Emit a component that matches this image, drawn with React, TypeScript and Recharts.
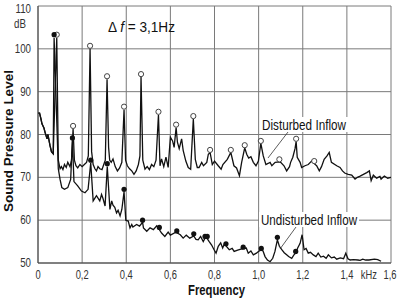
import { ComposedChart, Line, Scatter, XAxis, YAxis, CartesianGrid } from "recharts"

const FONT = "'Liberation Sans', Arial, sans-serif"

const xTicks = [0, 0.2, 0.4, 0.6, 0.8, 1.0, 1.2, 1.4, 1.6]
const yTicks = [50, 60, 70, 80, 90, 100, 110]

// shared low-frequency start of both traces (kHz, dB)
const startTrace: [number, number][] = [
  [0, 85], [0.007, 85], [0.014, 83.5], [0.018, 82.5], [0.027, 81.5], [0.032, 80.5],
  [0.041, 79], [0.045, 80], [0.054, 77.5], [0.061, 76], [0.069, 75.5],
]

const disturbedTrace: [number, number][] = [
  [0.085, 102.6], [0.092, 74], [0.1, 72], [0.106, 72.5], [0.113, 71.8], [0.12, 73],
  [0.128, 72.3], [0.135, 73.5], [0.145, 72.5], [0.152, 74], [0.159, 81.3], [0.165, 74],
  [0.172, 72.7], [0.18, 72.2], [0.19, 73], [0.2, 72.5], [0.21, 73], [0.22, 73.5],
  [0.228, 75], [0.236, 100], [0.243, 76], [0.25, 73], [0.258, 72], [0.265, 71.5],
  [0.272, 72.5], [0.28, 72], [0.29, 71.8], [0.298, 73], [0.305, 74], [0.313, 92.9],
  [0.32, 77], [0.325, 74], [0.332, 73.5], [0.34, 74.3], [0.35, 72.5], [0.36, 71.5],
  [0.37, 72.2], [0.38, 73.5], [0.39, 85.8], [0.397, 74], [0.405, 72.7], [0.415, 72],
  [0.425, 71.5], [0.435, 70.7], [0.445, 71.5], [0.455, 73], [0.462, 75], [0.467, 93.4],
  [0.475, 74], [0.485, 71.9], [0.495, 72.5], [0.505, 71.8], [0.515, 73], [0.525, 72.5],
  [0.535, 74], [0.546, 84.6], [0.553, 72.7], [0.56, 74.3], [0.57, 72.5], [0.58, 74.7],
  [0.59, 72.3], [0.6, 79.4], [0.61, 78.5], [0.617, 77], [0.626, 81.6], [0.632, 78.2],
  [0.64, 76.7], [0.651, 79], [0.658, 76.3], [0.67, 73.8], [0.681, 72.3], [0.692, 71.9],
  [0.704, 83.6], [0.713, 74.2], [0.722, 72.3], [0.73, 72.3], [0.742, 73.5], [0.75, 72.7],
  [0.765, 73.5], [0.772, 75.4], [0.78, 75.8], [0.79, 73], [0.8, 73.8], [0.817, 72.7],
  [0.83, 71.9], [0.838, 73], [0.858, 74.2], [0.874, 75.8], [0.888, 72.7], [0.9, 72.2],
  [0.913, 70.4], [0.923, 73.5], [0.937, 76.9], [0.946, 75.4], [0.955, 74.5], [0.965, 74.8],
  [0.976, 73.5], [0.988, 72.7], [0.999, 73.8], [1.01, 77.9], [1.021, 75], [1.033, 73],
  [1.045, 73.3], [1.052, 73.5], [1.06, 72.7], [1.075, 73.5], [1.094, 73.6], [1.1, 73.5],
  [1.115, 72.7], [1.127, 71.5], [1.14, 72.5], [1.145, 73.5], [1.155, 74.7], [1.165, 76.7],
  [1.17, 78.4], [1.175, 74.7], [1.188, 73.5], [1.195, 72.3], [1.21, 72.7], [1.225, 73],
  [1.24, 73.8], [1.252, 73.2], [1.263, 72.7], [1.275, 71.5], [1.285, 72.5], [1.297, 74.2],
  [1.31, 75], [1.32, 75.8], [1.33, 73.5], [1.354, 72.7], [1.369, 72.3], [1.38, 71.5],
  [1.39, 71], [1.406, 70.7], [1.422, 70.5], [1.437, 69.6], [1.448, 70], [1.46, 70.3],
  [1.475, 70.7], [1.49, 71.1], [1.502, 71.5], [1.51, 69.2], [1.52, 70.5], [1.535, 69.8],
  [1.55, 70.2], [1.555, 69.6], [1.57, 70.3], [1.585, 69.8], [1.6, 70],
]

const undisturbedTrace: [number, number][] = [
  [0.073, 102.6], [0.092, 72], [0.1, 69.5], [0.108, 67.6], [0.12, 67.2], [0.135, 67.6],
  [0.148, 69.5], [0.156, 78.6], [0.163, 69], [0.18, 68], [0.197, 66.8], [0.213, 66.4],
  [0.227, 67.2], [0.239, 73.4], [0.25, 64.5], [0.265, 65.7], [0.28, 64.5], [0.288, 66],
  [0.295, 65], [0.304, 63.3], [0.314, 72.5], [0.326, 62.5], [0.334, 64.5], [0.34, 63.5],
  [0.348, 63], [0.356, 61.7], [0.363, 62.3], [0.372, 61], [0.38, 62.5], [0.39, 66.6],
  [0.398, 60], [0.409, 59.8], [0.417, 58.2], [0.425, 59], [0.43, 58.4], [0.447, 59],
  [0.46, 58.6], [0.474, 59.5], [0.478, 58.2], [0.493, 57.4], [0.508, 58.2], [0.523, 57.8],
  [0.538, 58.7], [0.55, 57.8], [0.56, 57], [0.575, 56.2], [0.59, 57.2], [0.6, 56.5],
  [0.625, 57.2], [0.645, 56.6], [0.658, 55.8], [0.672, 56.5], [0.688, 55.8], [0.706, 56.3],
  [0.716, 55.5], [0.726, 55.4], [0.737, 56.2], [0.749, 55], [0.757, 55.8], [0.767, 55.7],
  [0.776, 55], [0.787, 54.2], [0.798, 53.1], [0.807, 52.3], [0.817, 53.9], [0.828, 54.7],
  [0.837, 53.5], [0.845, 54.5], [0.852, 54], [0.867, 53.1], [0.88, 53.4], [0.889, 52.7],
  [0.905, 53], [0.923, 53.3], [0.932, 53.4], [0.944, 53.5], [0.953, 52.3], [0.965, 52.8],
  [0.976, 51.9], [0.99, 52.3], [0.999, 52.7], [1.01, 53], [1.02, 52.8], [1.029, 51.5],
  [1.04, 50.7], [1.052, 50.3], [1.064, 51.1], [1.074, 52.7], [1.085, 55.4], [1.094, 53.9],
  [1.105, 53.1], [1.116, 52.4], [1.127, 51.9], [1.136, 51.5], [1.15, 51.1], [1.16, 51.9],
  [1.168, 52.3], [1.177, 53.5], [1.188, 54.6], [1.197, 56.6], [1.2, 55.5], [1.206, 53.1],
  [1.215, 53.4], [1.225, 52.3], [1.235, 52.5], [1.248, 51.9], [1.26, 51.5], [1.27, 52.3],
  [1.282, 51.4], [1.294, 51.6], [1.306, 51.1], [1.316, 51.9], [1.33, 51.2], [1.343, 51.4],
  [1.354, 50.9], [1.37, 51.2], [1.385, 51], [1.395, 52.3], [1.405, 51], [1.415, 50.7],
  [1.43, 50.8], [1.45, 50.7], [1.46, 50.6], [1.472, 50.9], [1.485, 50.7], [1.5, 50.7],
  [1.525, 50.9], [1.54, 50.8], [1.555, 50.4],
]

// harmonic peak markers
const disturbedPeaks: [number, number][] = [
  [0.085, 103.3], [0.159, 82], [0.236, 100.7], [0.313, 93.6], [0.39, 86.5], [0.467, 94.1],
  [0.546, 85.3], [0.626, 82.3], [0.704, 84.3], [0.78, 76.4], [0.874, 76.4], [0.937, 77.5],
  [1.01, 78.5], [1.094, 74.2], [1.17, 79], [1.252, 73.8],
]

const undisturbedPeaks: [number, number][] = [
  [0.073, 103.3], [0.156, 79.2], [0.239, 74], [0.314, 73.2], [0.39, 67.2], [0.474, 60],
  [0.55, 58.3], [0.629, 57.5], [0.706, 56.8], [0.757, 56.2], [0.767, 56.2], [0.852, 54.5],
  [0.93, 53.7], [1.012, 53.4], [1.085, 56], [1.168, 52.7],
]

const toRows = (pts: [number, number][]) => pts.map(([f, db]) => ({ f, db }))

const disturbedData = toRows([...startTrace, ...disturbedTrace])
const undisturbedData = toRows([...startTrace, ...undisturbedTrace])

const fmt = (v: number) => (v === 0 ? "0" : v.toFixed(1).replace(".", ","))

// the original figure is squeezed horizontally, so horizontal texts get a narrow look
const SQ = 0.78

const XTick = (props: any) => {
  const { x, y, payload } = props
  return (
    <g transform={`translate(${x},${y + 8})`}>
      <text transform={`scale(${SQ},1)`} textAnchor="middle" fontSize={12} fill="#333" fontFamily={FONT}>
        {fmt(payload.value)}
      </text>
      {payload.value === 1.4 && (
        <text transform={`translate(22,0) scale(${SQ},1)`} textAnchor="middle" fontSize={12} fill="#333" fontFamily={FONT}>
          kHz
        </text>
      )}
    </g>
  )
}

const YTick = (props: any) => {
  const { x, y, payload } = props
  return (
    <text transform={`translate(${x + 1},${y + 4}) scale(${SQ},1)`} textAnchor="end" fontSize={12.5} fill="#333" fontFamily={FONT}>
      {payload.value}
    </text>
  )
}

const openDot = (p: any) => <circle cx={p.cx} cy={p.cy} r={2.6} fill="#fff" stroke="#444" strokeWidth={1} />
const fullDot = (p: any) => <circle cx={p.cx} cy={p.cy} r={2.6} fill="#111" />

export default function App() {
  return (
    <div style={{ position: "fixed", left: 0, top: 0, width: 400, height: 300, background: "#fff" }}>
      <ComposedChart width={400} height={300} margin={{ top: 6, right: 9, bottom: 15, left: 8 }}>
        <CartesianGrid stroke="#7a7a7a" strokeWidth={1} />
        <XAxis
          type="number"
          dataKey="f"
          domain={[0, 1.6]}
          ticks={xTicks}
          tick={<XTick />}
          tickLine={false}
          axisLine={{ stroke: "#444" }}
          height={22}
          allowDataOverflow
        />
        <YAxis
          type="number"
          dataKey="db"
          domain={[50, 110]}
          ticks={yTicks}
          tick={<YTick />}
          tickLine={false}
          axisLine={{ stroke: "#444" }}
          width={30}
          allowDataOverflow
        />
        <Line data={disturbedData} dataKey="db" type="linear" stroke="#111" strokeWidth={1.3} dot={false} isAnimationActive={false} />
        <Line data={undisturbedData} dataKey="db" type="linear" stroke="#111" strokeWidth={1.3} dot={false} isAnimationActive={false} />
        <Scatter data={toRows(disturbedPeaks)} dataKey="db" shape={openDot} isAnimationActive={false} />
        <Scatter data={toRows(undisturbedPeaks)} dataKey="db" shape={fullDot} isAnimationActive={false} />
      </ComposedChart>
      <svg width={400} height={300} style={{ position: "absolute", left: 0, top: 0, pointerEvents: "none" }} fontFamily={FONT}>
        <text transform={`translate(26,28) scale(${SQ},1)`} textAnchor="end" fontSize={12.5} fill="#333">dB</text>
        <text x={108} y={32} fontSize={15} fill="#111" textLength={67} lengthAdjust="spacingAndGlyphs">
          Δ <tspan fontStyle="italic">f</tspan> = 3,1Hz
        </text>
        <text x={188} y={295} fontSize={14} fontWeight="bold" fill="#111" textLength={57} lengthAdjust="spacingAndGlyphs">
          Frequency
        </text>
        <text transform="translate(13,141) rotate(-90)" textAnchor="middle" fontSize={13.5} fontWeight="bold" fill="#111">
          Sound Pressure Level
        </text>
        <rect x={260} y={117} width={88} height={15} fill="#fff" />
        <text x={262} y={130} fontSize={14} fill="#111" textLength={84} lengthAdjust="spacingAndGlyphs">Disturbed Inflow</text>
        <line x1={288} y1={132} x2={268} y2={158} stroke="#333" strokeWidth={0.8} />
        <rect x={259} y={212} width={100} height={15} fill="#fff" />
        <text x={261} y={225} fontSize={14} fill="#111" textLength={96} lengthAdjust="spacingAndGlyphs">Undisturbed Inflow</text>
        <line x1={296} y1={227} x2={280} y2={249} stroke="#333" strokeWidth={0.8} />
      </svg>
    </div>
  )
}
